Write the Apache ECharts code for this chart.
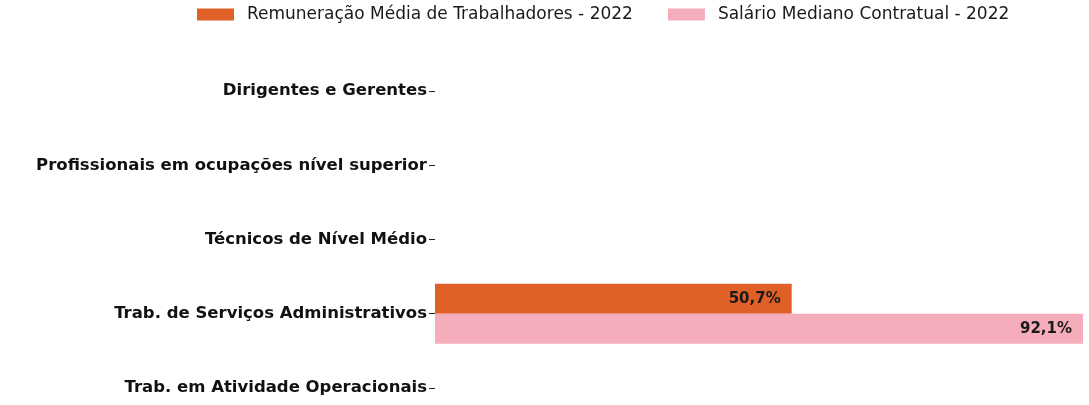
<!DOCTYPE html>
<html>
<head>
<meta charset="utf-8">
<script src="https://cdn.jsdelivr.net/npm/echarts@6/dist/echarts.min.js"></script>
<style>
  html, body { margin: 0; padding: 0; background: #fff; }
  #chart { width: 1089px; height: 405px; }
</style>
</head>
<body>
<div id="chart"></div>
<script>
// categorias (de cima para baixo)
const categorias = [
  'Dirigentes e Gerentes',
  'Profissionais em ocupações nível superior',
  'Técnicos de Nível Médio',
  'Trab. de Serviços Administrativos',
  'Trab. em Atividade Operacionais'
]
const remuneracaoMedia = [null, null, null, 50.7, null]
const salarioMediano = [null, null, null, 92.1, null]
const nomesSeries = ['Remuneração Média de Trabalhadores - 2022', 'Salário Mediano Contratual - 2022']

const fonte = 'DejaVu Sans'

const chart = echarts.init(document.getElementById('chart'))

const labelStyle = {
  show: true,
  position: 'insideRight',
  distance: 11,
  color: '#1a1a1a',
  fontFamily: fonte,
  fontWeight: 'bold',
  fontSize: 15,
  formatter: p => p.value.toFixed(1).replace('.', ',') + '%'
}

chart.setOption({
  animation: false,
  legend: {
    top: 6,
    left: 197,
    padding: 0,
    icon: 'rect',
    itemWidth: 37,
    itemHeight: 12,
    itemGap: 35,
    textStyle: {
      color: '#1a1a1a',
      fontFamily: fonte,
      fontSize: 17,
      padding: [0, 0, 0, 8]
    }
  },
  grid: {
    left: 435,
    top: 54,
    width: 648,
    height: 371,
    outerBoundsMode: 'none'
  },
  xAxis: {
    type: 'value',
    min: 0,
    max: 92.1,
    show: false
  },
  yAxis: {
    type: 'category',
    data: categorias,
    inverse: true,
    axisLine: { show: false },
    axisTick: {
      show: true,
      alignWithLabel: true,
      length: 6,
      lineStyle: { color: '#222', width: 1 }
    },
    axisLabel: {
      color: '#111',
      fontFamily: fonte,
      fontWeight: 'bold',
      fontSize: 16.5,
      margin: 8
    }
  },
  series: [
    {
      name: nomesSeries[0],
      type: 'bar',
      data: remuneracaoMedia,
      barWidth: 30,
      barGap: '0%',
      itemStyle: { color: '#E06028' },
      label: labelStyle
    },
    {
      name: nomesSeries[1],
      type: 'bar',
      data: salarioMediano,
      barWidth: 30,
      barGap: '0%',
      itemStyle: { color: '#F5ACBB' },
      label: labelStyle
    }
  ]
})
</script>
</body>
</html>
